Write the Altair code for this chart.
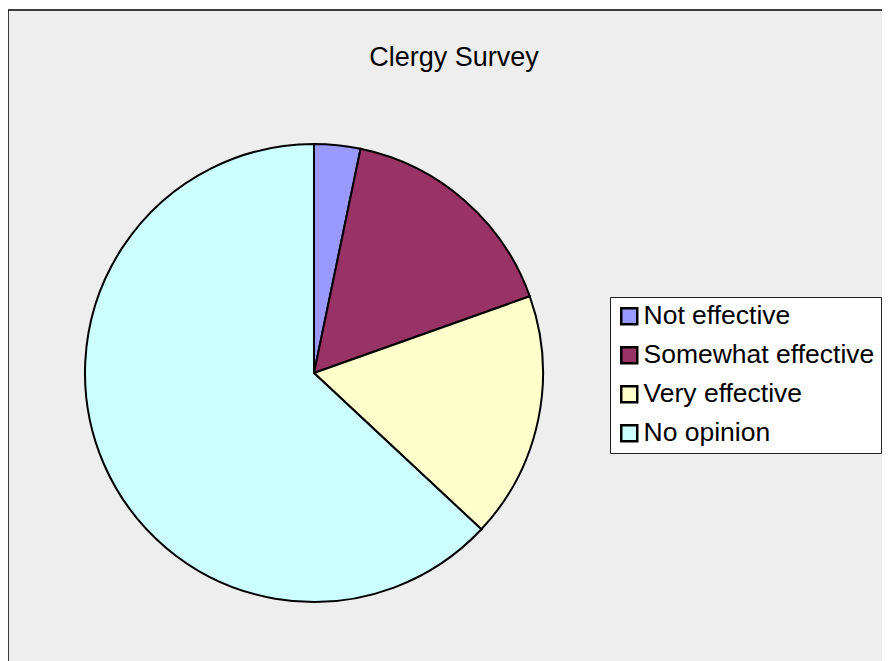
import altair as alt
import pandas as pd

categories = ["Not effective", "Somewhat effective", "Very effective", "No opinion"]
counts = [3, 15, 16, 58]
colors = ["#9999ff", "#993366", "#ffffcc", "#ccffff"]
order = [0, 1, 2, 3]

df = pd.DataFrame({"category": categories, "count": counts, "order": order})

W, H = 874, 660

chart = (
    alt.Chart(df)
    .mark_arc(stroke="black", strokeWidth=2, radius=229)
    .encode(
        theta=alt.Theta("count:Q", stack=True),
        color=alt.Color(
            "category:N",
            scale=alt.Scale(domain=categories, range=colors),
            legend=alt.Legend(
                title=None,
                orient="none",
                legendX=602,
                legendY=287,
                fillColor="white",
                strokeColor="#222222",
                padding=6,
                symbolType="square",
                symbolSize=256,
                symbolStrokeWidth=2.5,
                symbolStrokeColor="black",
                symbolOpacity=1,
                labelFontSize=26.5,
                labelFont="Liberation Sans",
                labelColor="black",
                labelOffset=1,
                rowPadding=12,
                labelLimit=400,
            ),
        ),
        order=alt.Order("order:Q"),
        x=alt.value(306),
        y=alt.value(363),
    )
    .properties(
        width=W,
        height=H,
        autosize="none",
        padding={"left": 0, "top": 2, "right": 0, "bottom": 0},
        background="white",
        title=alt.TitleParams(
            "Clergy Survey",
            anchor="middle",
            fontSize=27,
            font="Liberation Sans",
            fontWeight="normal",
            color="black",
            offset=0,
            dy=62,
            dx=9,
        ),
    )
    .configure_view(
        stroke="black",
        strokeWidth=1.5,
        fill="#eeeeee",
        strokeDash=[W, W + H, H],
    )
)

chart.save("out.html", embed_options={"renderer": "svg", "actions": False})
